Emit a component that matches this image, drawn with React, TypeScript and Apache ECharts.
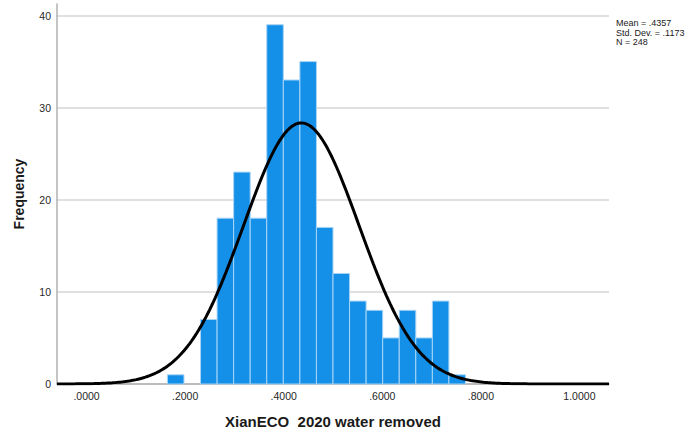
import React, { useEffect, useRef } from "react";
import * as echarts from "echarts";

// Histogram bins of "XianECO 2020 water removed"
const binStart = 0.164;
const binWidth = 0.0336;
const binCounts = [1, 0, 7, 18, 23, 18, 39, 33, 35, 17, 12, 9, 8, 5, 8, 5, 9, 1];

// Summary statistics shown at the right
const mean = 0.4357;
const stdDev = 0.1173;
const n = 248;

const xTicks = [0, 0.2, 0.4, 0.6, 0.8, 1.0];
const yTicks = [0, 10, 20, 30, 40];
const xMin = -0.06;
const xMax = 1.06;
const yMax = 41.25;

const FONT = "'Liberation Sans', Arial, sans-serif";

function normalCurve(): number[][] {
  const pts: number[][] = [];
  const steps = 300;
  const scale = (n * binWidth) / (stdDev * Math.sqrt(2 * Math.PI));
  for (let i = 0; i <= steps; i++) {
    const x = xMin + ((xMax - xMin) * i) / steps;
    const z = (x - mean) / stdDev;
    pts.push([x, scale * Math.exp(-0.5 * z * z)]);
  }
  return pts;
}

function fmtX(v: number): string {
  const s = v.toFixed(4);
  return s.startsWith("0") ? s.slice(1) : s;
}

const statLines = [
  `Mean = .${mean.toFixed(4).split(".")[1]}`,
  `Std. Dev. = .${stdDev.toFixed(4).split(".")[1]}`,
  `N = ${n}`,
];

export default function App() {
  const ref = useRef<HTMLDivElement>(null);

  useEffect(() => {
    if (!ref.current) return;
    const chart = echarts.init(ref.current, null, { renderer: "svg" });

    const barData = binCounts.map((c, i) => [binStart + i * binWidth, binStart + (i + 1) * binWidth, c]);

    chart.setOption({
      animation: false,
      backgroundColor: "#ffffff",
      grid: {
        left: 57,
        right: 89,
        top: 4,
        bottom: 51,
        containLabel: false,
        outerBoundsMode: "none",
      },
      xAxis: {
        type: "value",
        min: xMin,
        max: xMax,
        name: "XianECO  2020 water removed",
        nameLocation: "middle",
        nameGap: 30,
        nameTextStyle: { fontFamily: FONT, fontSize: 15, fontWeight: "bold", color: "#1a1a1a" },
        axisLine: { show: true, onZero: false, lineStyle: { color: "#b0b0b0", width: 1.5 } },
        axisTick: { show: false, customValues: xTicks },
        axisLabel: {
          customValues: xTicks,
          formatter: (v: number) => fmtX(v),
          fontFamily: FONT,
          fontSize: 10.5,
          color: "#262626",
          margin: 6,
        },
        splitLine: { show: false },
      },
      yAxis: {
        type: "value",
        min: 0,
        max: yMax,
        name: "Frequency",
        nameLocation: "middle",
        nameGap: 31,
        nameRotate: 90,
        nameTextStyle: { fontFamily: FONT, fontSize: 14, fontWeight: "bold", color: "#1a1a1a" },
        axisLine: { show: true, onZero: false, lineStyle: { color: "#b0b0b0", width: 1.5 } },
        axisTick: { show: false, customValues: yTicks },
        axisLabel: {
          customValues: yTicks,
          fontFamily: FONT,
          fontSize: 10.5,
          color: "#262626",
          margin: 6,
        },
        splitLine: { show: true, lineStyle: { color: "#d6d6d6", width: 1.5 } },
      },
      series: [
        {
          type: "custom",
          data: barData,
          renderItem: (params: any, api: any) => {
            const c = api.value(2);
            if (!c) return null;
            const p0 = api.coord([api.value(0), c]);
            const p1 = api.coord([api.value(1), 0]);
            return {
              type: "rect",
              shape: { x: p0[0], y: p0[1], width: p1[0] - p0[0], height: p1[1] - p0[1] },
              style: { fill: "#1590e8", stroke: "#a8d4f5", lineWidth: 1 },
            };
          },
          z: 2,
        },
        {
          type: "line",
          data: normalCurve(),
          showSymbol: false,
          smooth: false,
          lineStyle: { color: "#000000", width: 3 },
          z: 3,
        },
      ],
      graphic: statLines.map((t, i) => ({
        type: "text",
        left: 616,
        top: 18.8 + i * 9.4,
        style: {
          text: t,
          font: `9px ${FONT}`,
          fill: "#1a1a1a",
        },
      })),
    });

    return () => chart.dispose();
  }, []);

  return (
    <div
      ref={ref}
      style={{ position: "fixed", left: 0, top: 0, width: 698, height: 435 }}
    />
  );
}
